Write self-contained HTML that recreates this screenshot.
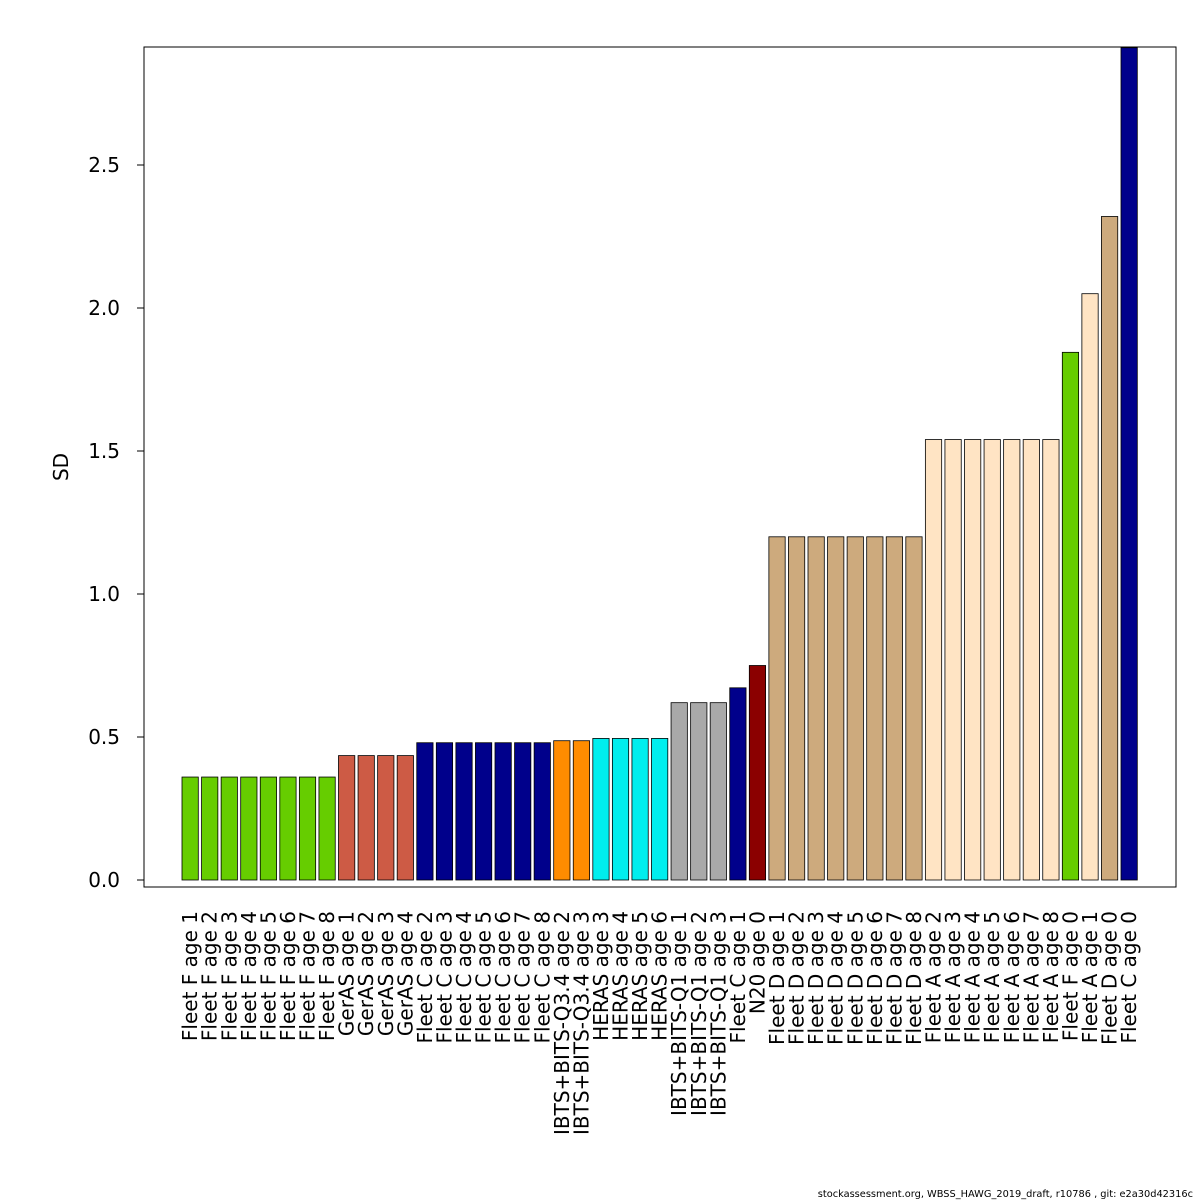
<!DOCTYPE html>
<html><head><meta charset="utf-8"><style>
html,body{margin:0;padding:0;background:#fff;}
svg{display:block;font-family:"DejaVu Sans","Liberation Sans",sans-serif;}
</style></head><body>
<svg id="chart" width="1200" height="1200" viewBox="0 0 1200 1200" xmlns="http://www.w3.org/2000/svg">
<rect x="0" y="0" width="1200" height="1200" fill="#fff"/>
<rect x="144" y="47" width="1032" height="840" fill="none" stroke="#000" stroke-width="1"/>
<g id="bars"></g><g id="xlabels"></g><g id="yaxis"></g>
<text x="0" y="0" transform="translate(68,467) rotate(-90)" text-anchor="middle" font-size="20">SD</text>
<text x="1193" y="1197" text-anchor="end" font-size="9.8">stockassessment.org, WBSS_HAWG_2019_draft, r10786 , git: e2a30d42316c</text>
</svg>
<script>
const categories = ["Fleet F age 1","Fleet F age 2","Fleet F age 3","Fleet F age 4","Fleet F age 5","Fleet F age 6","Fleet F age 7","Fleet F age 8","GerAS age 1","GerAS age 2","GerAS age 3","GerAS age 4","Fleet C age 2","Fleet C age 3","Fleet C age 4","Fleet C age 5","Fleet C age 6","Fleet C age 7","Fleet C age 8","IBTS+BITS-Q3.4 age 2","IBTS+BITS-Q3.4 age 3","HERAS age 3","HERAS age 4","HERAS age 5","HERAS age 6","IBTS+BITS-Q1 age 1","IBTS+BITS-Q1 age 2","IBTS+BITS-Q1 age 3","Fleet C age 1","N20 age 0","Fleet D age 1","Fleet D age 2","Fleet D age 3","Fleet D age 4","Fleet D age 5","Fleet D age 6","Fleet D age 7","Fleet D age 8","Fleet A age 2","Fleet A age 3","Fleet A age 4","Fleet A age 5","Fleet A age 6","Fleet A age 7","Fleet A age 8","Fleet F age 0","Fleet A age 1","Fleet D age 0","Fleet C age 0"];
const values = [0.36,0.36,0.36,0.36,0.36,0.36,0.36,0.36,0.435,0.435,0.435,0.435,0.48,0.48,0.48,0.48,0.48,0.48,0.48,0.487,0.487,0.495,0.495,0.495,0.495,0.62,0.62,0.62,0.672,0.75,1.2,1.2,1.2,1.2,1.2,1.2,1.2,1.2,1.54,1.54,1.54,1.54,1.54,1.54,1.54,1.845,2.05,2.32,2.91];
const groups = ["F","F","F","F","F","F","F","F","G","G","G","G","C","C","C","C","C","C","C","Q3","Q3","H","H","H","H","Q1","Q1","Q1","C","N","D","D","D","D","D","D","D","D","A","A","A","A","A","A","A","F","A","D","C"];
const groupColors = {F:"#66CD00",G:"#CD5B45",C:"#00008B",Q3:"#FF8C00",H:"#00EEEE",Q1:"#A9A9A9",N:"#8B0000",D:"#CDAA7D",A:"#FFE4C4"};
const yTicks = [0,0.5,1,1.5,2,2.5];
const yTickLabels = ["0.0","0.5","1.0","1.5","2.0","2.5"];
const NS="http://www.w3.org/2000/svg";
const y0=880, pxPerUnit=286;
function yScale(v){return y0 - v*pxPerUnit;}
const firstLeft=182, pitch=(1121-182)/48, bw=16.3;
function xLeft(i){return firstLeft + i*pitch;}
const gb=document.getElementById('bars'), gl=document.getElementById('xlabels'), gy=document.getElementById('yaxis');
values.forEach((v,i)=>{
  const r=document.createElementNS(NS,'rect');
  const top=Math.max(yScale(v),47);
  r.setAttribute('x',xLeft(i)); r.setAttribute('y',top);
  r.setAttribute('width',bw); r.setAttribute('height',y0-top);
  r.setAttribute('fill',groupColors[groups[i]]); r.setAttribute('stroke','#000'); r.setAttribute('stroke-width','0.8');
  
  
  gb.appendChild(r);
  const t=document.createElementNS(NS,'text');
  const cx=xLeft(i)+bw/2+7;
  t.setAttribute('transform','translate('+cx+',911) rotate(-90)');
  t.setAttribute('text-anchor','end'); t.setAttribute('font-size','20');
  t.textContent=categories[i];
  
  
  gl.appendChild(t);
});
yTicks.forEach((v,i)=>{
  const y=yScale(v);
  const l=document.createElementNS(NS,'line');
  l.setAttribute('x1',144); l.setAttribute('x2',137); l.setAttribute('y1',y); l.setAttribute('y2',y);
  l.setAttribute('stroke','#000');
  
  
  gy.appendChild(l);
  const t=document.createElementNS(NS,'text');
  t.setAttribute('x',120); t.setAttribute('y',y+7); t.setAttribute('text-anchor','end'); t.setAttribute('font-size','20');
  t.textContent=yTickLabels[i];
  
  
  gy.appendChild(t);
});
</script>
</body></html>
